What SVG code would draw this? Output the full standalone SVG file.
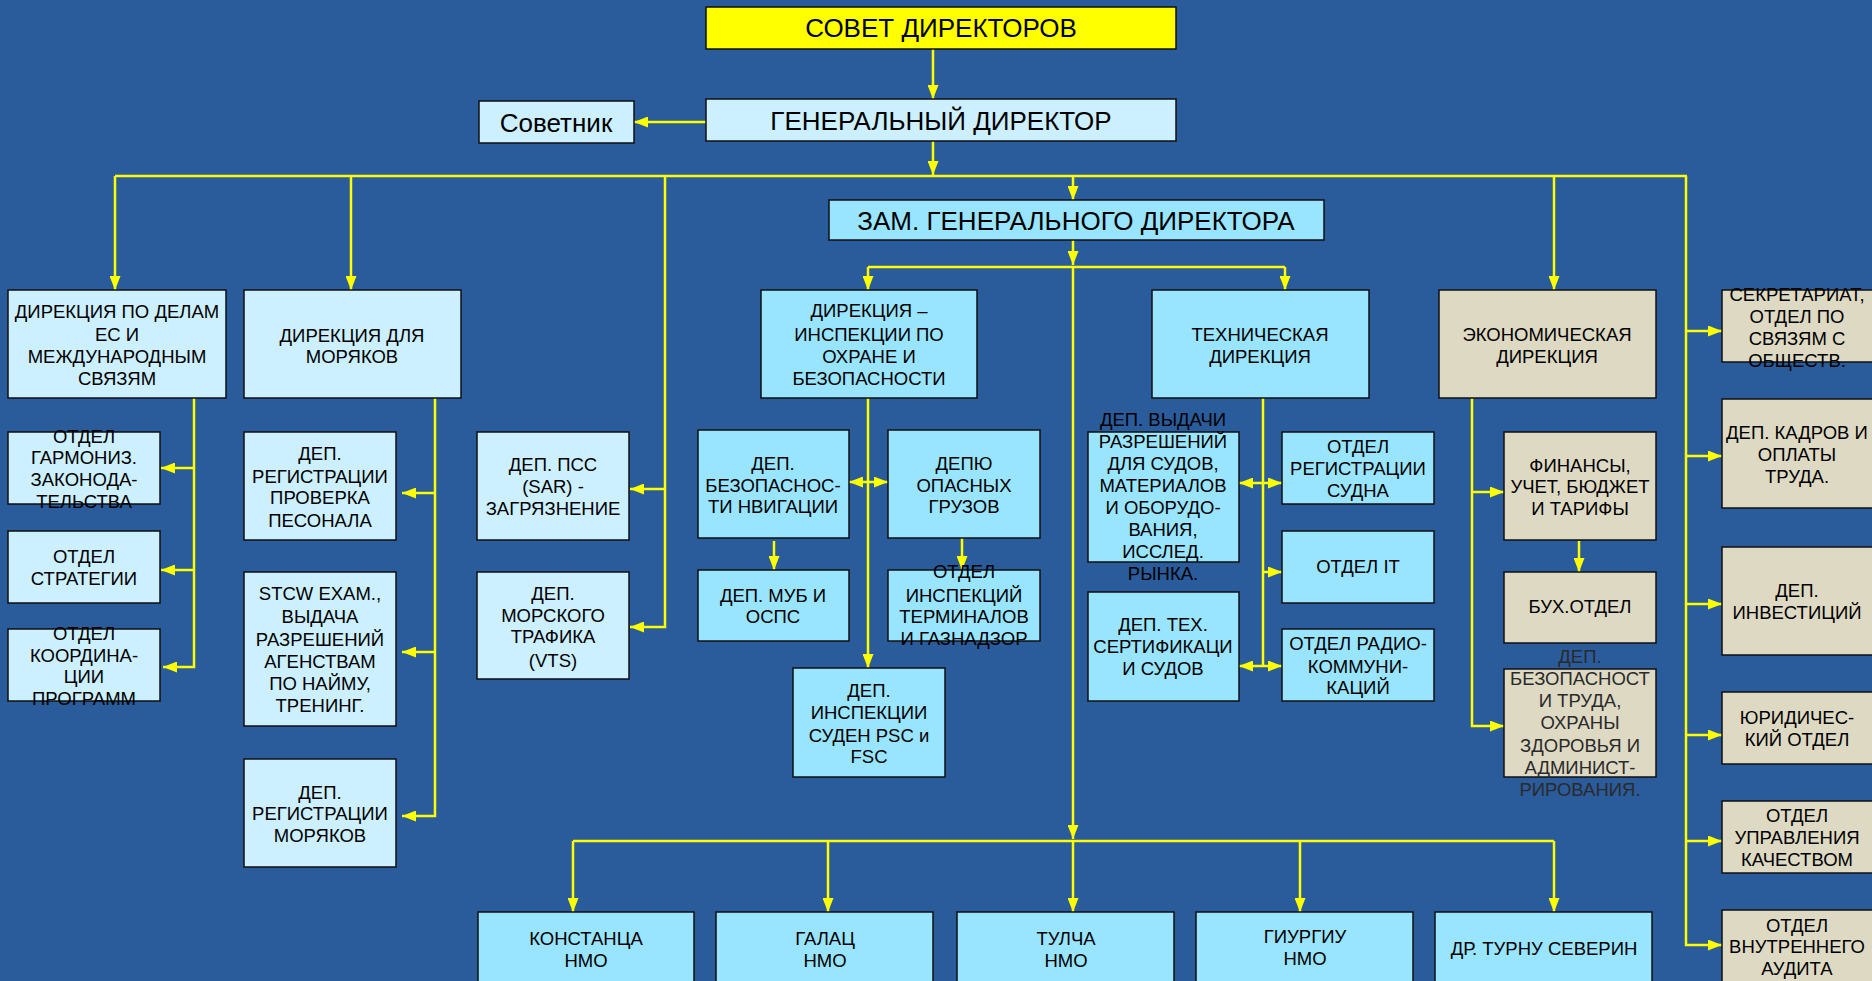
<svg xmlns="http://www.w3.org/2000/svg" width="1872" height="981" viewBox="0 0 1872 981">
<style>
rect{stroke:#111;stroke-width:1.5}
rect.bgr{stroke:none;fill:#2A5B9B}
.lt{fill:#CCF0FF}
.cy{fill:#99E5FF}
.be{fill:#DDD9C3}
.yl{fill:#FFFF00}
text{font-family:"Liberation Sans",Arial,sans-serif;fill:#000;text-anchor:middle}
.t{font-size:18.5px}
.T{font-size:26px}
.dk{fill:#2a2a2a}
#connectors path{fill:none;stroke:#FFFF00;stroke-width:2.5}
.a{marker-end:url(#ah)}
.d{marker-start:url(#ah);marker-end:url(#ah)}
</style>
<defs>
<marker id="ah" markerUnits="userSpaceOnUse" markerWidth="14" markerHeight="11" refX="14" refY="5.5" orient="auto-start-reverse">
<path d="M0,0 L14,5.5 L0,11 z" fill="#FFFF00"/>
</marker>
</defs>
<rect class="bgr" x="0" y="0" width="1872" height="981"/>

<g id="connectors">
<path class="a" d="M933,49 V99"/>
<path class="a" d="M706,122 H634"/>
<path class="a" d="M933,141 V175"/>
<path d="M115,176 H1687"/>
<path class="a" d="M115,176 V290"/>
<path class="a" d="M351,176 V290"/>
<path class="a" d="M1073,176 V200"/>
<path class="a" d="M1554,176 V290"/>
<path class="a" d="M665,176 V627 H630"/>
<path class="a" d="M665,489 H630"/>
<path class="a" d="M1686,176 V945 H1722"/>
<path class="a" d="M1686,331 H1722"/>
<path class="a" d="M1686,456 H1722"/>
<path class="a" d="M1686,604 H1722"/>
<path class="a" d="M1686,735 H1722"/>
<path class="a" d="M1686,841 H1722"/>
<path class="a" d="M1073,240 V265"/>
<path d="M868,267 H1285"/>
<path class="a" d="M868,267 V290"/>
<path class="a" d="M1285,267 V290"/>
<path class="a" d="M1073,267 V839"/>
<path d="M573,841 H1554"/>
<path class="a" d="M573,841 V912"/>
<path class="a" d="M828,841 V912"/>
<path class="a" d="M1073,841 V912"/>
<path class="a" d="M1300,841 V912"/>
<path class="a" d="M1554,841 V912"/>
<path class="a" d="M194,398 V667 H163"/>
<path class="a" d="M194,468 H161"/>
<path class="a" d="M194,570 H161"/>
<path class="a" d="M435,398 V816 H402"/>
<path class="a" d="M435,493 H402"/>
<path class="a" d="M435,652 H402"/>
<path class="a" d="M868,398 V668"/>
<path class="d" d="M849,482 H888"/>
<path class="a" d="M774,541 V570"/>
<path class="a" d="M962,538 V570"/>
<path d="M1263,398 V666"/>
<path class="d" d="M1239,483 H1282"/>
<path class="a" d="M1263,572 H1282"/>
<path class="d" d="M1239,666 H1282"/>
<path class="a" d="M1472,398 V726 H1504"/>
<path class="a" d="M1472,492 H1504"/>
<path class="a" d="M1579,541 V572"/>
</g>

<g id="sovet"><rect class="yl" x="706" y="7" width="470" height="42"/><text class="T" x="941" y="37">СОВЕТ ДИРЕКТОРОВ</text></g>
<g id="gen-dir"><rect class="lt" x="706" y="99" width="470" height="42"/><text class="T" x="941" y="130">ГЕНЕРАЛЬНЫЙ ДИРЕКТОР</text></g>
<g id="sovetnik"><rect class="lt" x="479" y="101" width="155" height="42"/><text class="T" x="556" y="132">Советник</text></g>
<g id="zam"><rect class="cy" x="829" y="200" width="495" height="40"/><text class="T" x="1076" y="230">ЗАМ. ГЕНЕРАЛЬНОГО ДИРЕКТОРА</text></g>

<g id="dir-es"><rect class="lt" x="8" y="290" width="218" height="108"/><text class="t"><tspan x="117" y="318">ДИРЕКЦИЯ ПО ДЕЛАМ</tspan><tspan x="117" y="341">ЕС И</tspan><tspan x="117" y="363">МЕЖДУНАРОДНЫМ</tspan><tspan x="117" y="385">СВЯЗЯМ</tspan></text></g>
<g id="otd-garm"><rect class="lt" x="8" y="432" width="152" height="72"/><text class="t"><tspan x="84" y="443">ОТДЕЛ</tspan><tspan x="84" y="464">ГАРМОНИЗ.</tspan><tspan x="84" y="486">ЗАКОНОДА-</tspan><tspan x="84" y="508">ТЕЛЬСТВА</tspan></text></g>
<g id="otd-strat"><rect class="lt" x="8" y="531" width="152" height="72"/><text class="t"><tspan x="84" y="563">ОТДЕЛ</tspan><tspan x="84" y="585">СТРАТЕГИИ</tspan></text></g>
<g id="otd-koord"><rect class="lt" x="8" y="629" width="152" height="72"/><text class="t"><tspan x="84" y="640">ОТДЕЛ</tspan><tspan x="84" y="662">КООРДИНА-</tspan><tspan x="84" y="683">ЦИИ</tspan><tspan x="84" y="705">ПРОГРАММ</tspan></text></g>

<g id="dir-mor"><rect class="lt" x="244" y="290" width="217" height="108"/><text class="t"><tspan x="352" y="342">ДИРЕКЦИЯ ДЛЯ</tspan><tspan x="352" y="363">МОРЯКОВ</tspan></text></g>
<g id="dep-reg-prov"><rect class="lt" x="244" y="432" width="152" height="108"/><text class="t"><tspan x="320" y="460">ДЕП.</tspan><tspan x="320" y="483">РЕГИСТРАЦИИ</tspan><tspan x="320" y="504">ПРОВЕРКА</tspan><tspan x="320" y="527">ПЕСОНАЛА</tspan></text></g>
<g id="stcw"><rect class="lt" x="244" y="572" width="152" height="154"/><text class="t"><tspan x="320" y="600">STCW EXAM.,</tspan><tspan x="320" y="623">ВЫДАЧА</tspan><tspan x="320" y="646">РАЗРЕШЕНИЙ</tspan><tspan x="320" y="668">АГЕНСТВАМ</tspan><tspan x="320" y="690">ПО НАЙМУ,</tspan><tspan x="320" y="712">ТРЕНИНГ.</tspan></text></g>
<g id="dep-reg-mor"><rect class="lt" x="244" y="759" width="152" height="108"/><text class="t"><tspan x="320" y="799">ДЕП.</tspan><tspan x="320" y="820">РЕГИСТРАЦИИ</tspan><tspan x="320" y="842">МОРЯКОВ</tspan></text></g>

<g id="dep-pss"><rect class="lt" x="477" y="432" width="152" height="108"/><text class="t"><tspan x="553" y="471">ДЕП. ПСС</tspan><tspan x="553" y="493">(SAR) -</tspan><tspan x="553" y="515">ЗАГРЯЗНЕНИЕ</tspan></text></g>
<g id="dep-vts"><rect class="lt" x="477" y="572" width="152" height="107"/><text class="t"><tspan x="553" y="600">ДЕП.</tspan><tspan x="553" y="622">МОРСКОГО</tspan><tspan x="553" y="643">ТРАФИКА</tspan><tspan x="553" y="667">(VTS)</tspan></text></g>

<g id="dir-insp"><rect class="cy" x="761" y="290" width="216" height="108"/><text class="t"><tspan x="869" y="317">ДИРЕКЦИЯ –</tspan><tspan x="869" y="341">ИНСПЕКЦИИ ПО</tspan><tspan x="869" y="363">ОХРАНЕ И</tspan><tspan x="869" y="385">БЕЗОПАСНОСТИ</tspan></text></g>
<g id="dep-bez-nav"><rect class="cy" x="698" y="430" width="151" height="108"/><text class="t"><tspan x="773" y="470">ДЕП.</tspan><tspan x="773" y="492">БЕЗОПАСНОС-</tspan><tspan x="773" y="513">ТИ НВИГАЦИИ</tspan></text></g>
<g id="dep-mub"><rect class="cy" x="698" y="570" width="151" height="71"/><text class="t"><tspan x="773" y="602">ДЕП. МУБ И</tspan><tspan x="773" y="623">ОСПС</tspan></text></g>
<g id="dep-gruz"><rect class="cy" x="888" y="430" width="152" height="108"/><text class="t"><tspan x="964" y="470">ДЕПЮ</tspan><tspan x="964" y="492">ОПАСНЫХ</tspan><tspan x="964" y="513">ГРУЗОВ</tspan></text></g>
<g id="otd-term"><rect class="cy" x="888" y="570" width="152" height="71"/><text class="t"><tspan x="964" y="578">ОТДЕЛ</tspan><tspan x="964" y="602">ИНСПЕКЦИЙ</tspan><tspan x="964" y="623">ТЕРМИНАЛОВ</tspan><tspan x="964" y="645">И ГАЗНАДЗОР</tspan></text></g>
<g id="dep-psc"><rect class="cy" x="793" y="668" width="152" height="109"/><text class="t"><tspan x="869" y="697">ДЕП.</tspan><tspan x="869" y="719">ИНСПЕКЦИИ</tspan><tspan x="869" y="742">СУДЕН PSC и</tspan><tspan x="869" y="763">FSC</tspan></text></g>

<g id="tech"><rect class="cy" x="1152" y="290" width="217" height="108"/><text class="t"><tspan x="1260" y="341">ТЕХНИЧЕСКАЯ</tspan><tspan x="1260" y="363">ДИРЕКЦИЯ</tspan></text></g>
<g id="dep-vyd"><rect class="cy" x="1088" y="432" width="151" height="130"/><text class="t"><tspan x="1163" y="426">ДЕП. ВЫДАЧИ</tspan><tspan x="1163" y="448">РАЗРЕШЕНИЙ</tspan><tspan x="1163" y="470">ДЛЯ СУДОВ,</tspan><tspan x="1163" y="492">МАТЕРИАЛОВ</tspan><tspan x="1163" y="514">И ОБОРУДО-</tspan><tspan x="1163" y="536">ВАНИЯ,</tspan><tspan x="1163" y="558">ИССЛЕД.</tspan><tspan x="1163" y="580">РЫНКА.</tspan></text></g>
<g id="dep-tex"><rect class="cy" x="1088" y="592" width="151" height="109"/><text class="t"><tspan x="1163" y="631">ДЕП. ТЕХ.</tspan><tspan x="1163" y="653">СЕРТИФИКАЦИ</tspan><tspan x="1163" y="675">И СУДОВ</tspan></text></g>
<g id="otd-reg-sud"><rect class="cy" x="1282" y="432" width="152" height="72"/><text class="t"><tspan x="1358" y="453">ОТДЕЛ</tspan><tspan x="1358" y="475">РЕГИСТРАЦИИ</tspan><tspan x="1358" y="497">СУДНА</tspan></text></g>
<g id="otd-it"><rect class="cy" x="1282" y="531" width="152" height="72"/><text class="t"><tspan x="1358" y="573">ОТДЕЛ IT</tspan></text></g>
<g id="otd-radio"><rect class="cy" x="1282" y="629" width="152" height="72"/><text class="t"><tspan x="1358" y="650">ОТДЕЛ РАДИО-</tspan><tspan x="1358" y="673">КОММУНИ-</tspan><tspan x="1358" y="694">КАЦИЙ</tspan></text></g>

<g id="econ"><rect class="be" x="1439" y="290" width="217" height="108"/><text class="t"><tspan x="1547" y="341">ЭКОНОМИЧЕСКАЯ</tspan><tspan x="1547" y="363">ДИРЕКЦИЯ</tspan></text></g>
<g id="fin"><rect class="be" x="1504" y="432" width="152" height="108"/><text class="t"><tspan x="1580" y="472">ФИНАНСЫ,</tspan><tspan x="1580" y="493">УЧЕТ, БЮДЖЕТ</tspan><tspan x="1580" y="515">И ТАРИФЫ</tspan></text></g>
<g id="buh"><rect class="be" x="1504" y="572" width="152" height="71"/><text class="t"><tspan x="1580" y="613">БУХ.ОТДЕЛ</tspan></text></g>
<g id="dep-bez-truda"><rect class="be" x="1504" y="669" width="152" height="108"/><text class="t dk"><tspan x="1580" y="663">ДЕП.</tspan><tspan x="1580" y="685">БЕЗОПАСНОСТ</tspan><tspan x="1580" y="707">И ТРУДА,</tspan><tspan x="1580" y="729">ОХРАНЫ</tspan><tspan x="1580" y="752">ЗДОРОВЬЯ И</tspan><tspan x="1580" y="774">АДМИНИСТ-</tspan><tspan x="1580" y="796">РИРОВАНИЯ.</tspan></text></g>

<g id="sekr"><rect class="be" x="1722" y="290" width="160" height="72"/><text class="t"><tspan x="1797" y="301">СЕКРЕТАРИАТ,</tspan><tspan x="1797" y="323">ОТДЕЛ ПО</tspan><tspan x="1797" y="345">СВЯЗЯМ С</tspan><tspan x="1797" y="367">ОБЩЕСТВ.</tspan></text></g>
<g id="kadry"><rect class="be" x="1722" y="399" width="160" height="109"/><text class="t"><tspan x="1797" y="439">ДЕП. КАДРОВ И</tspan><tspan x="1797" y="461">ОПЛАТЫ</tspan><tspan x="1797" y="483">ТРУДА.</tspan></text></g>
<g id="invest"><rect class="be" x="1722" y="547" width="160" height="108"/><text class="t"><tspan x="1797" y="597">ДЕП.</tspan><tspan x="1797" y="619">ИНВЕСТИЦИЙ</tspan></text></g>
<g id="jur"><rect class="be" x="1722" y="692" width="160" height="72"/><text class="t"><tspan x="1797" y="724">ЮРИДИЧЕС-</tspan><tspan x="1797" y="746">КИЙ ОТДЕЛ</tspan></text></g>
<g id="kach"><rect class="be" x="1722" y="801" width="160" height="72"/><text class="t"><tspan x="1797" y="822">ОТДЕЛ</tspan><tspan x="1797" y="844">УПРАВЛЕНИЯ</tspan><tspan x="1797" y="866">КАЧЕСТВОМ</tspan></text></g>
<g id="audit"><rect class="be" x="1722" y="910" width="160" height="90"/><text class="t"><tspan x="1797" y="932">ОТДЕЛ</tspan><tspan x="1797" y="953">ВНУТРЕННЕГО</tspan><tspan x="1797" y="975">АУДИТА</tspan></text></g>

<g id="constanta"><rect class="cy" x="478" y="912" width="216" height="90"/><text class="t"><tspan x="586" y="945">КОНСТАНЦА</tspan><tspan x="586" y="967">НМО</tspan></text></g>
<g id="galati"><rect class="cy" x="716" y="912" width="217" height="90"/><text class="t"><tspan x="825" y="945">ГАЛАЦ</tspan><tspan x="825" y="967">НМО</tspan></text></g>
<g id="tulcea"><rect class="cy" x="957" y="912" width="217" height="90"/><text class="t"><tspan x="1066" y="945">ТУЛЧА</tspan><tspan x="1066" y="967">НМО</tspan></text></g>
<g id="giurgiu"><rect class="cy" x="1196" y="912" width="217" height="90"/><text class="t"><tspan x="1305" y="943">ГИУРГИУ</tspan><tspan x="1305" y="965">НМО</tspan></text></g>
<g id="turnu"><rect class="cy" x="1435" y="912" width="217" height="90"/><text class="t"><tspan x="1544" y="955">ДР. ТУРНУ СЕВЕРИН</tspan></text></g>
</svg>
